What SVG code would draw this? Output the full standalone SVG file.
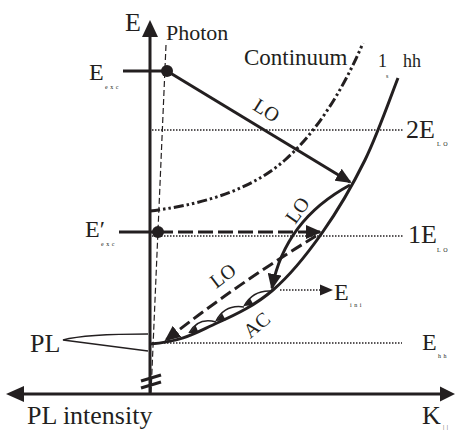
<svg xmlns="http://www.w3.org/2000/svg" width="455" height="430" viewBox="0 0 455 430">
<style>
.ln{stroke:#231f20;fill:none;stroke-width:3}
.thin{stroke:#231f20;fill:none;stroke-width:1.5}
.dot{stroke:#231f20;fill:none;stroke-width:1.5;stroke-dasharray:1.5 1.5}
.t{fill:#231f20}
.sub{fill:#231f20;font-size:6px;letter-spacing:2.5px}
.fill{fill:#231f20}
</style>
<defs>
<marker id="ah" viewBox="0 0 16 14" refX="14" refY="7" markerWidth="16" markerHeight="14" markerUnits="userSpaceOnUse" orient="auto"><path d="M0,0 L16,7 L0,14 z" fill="#231f20"/></marker>
</defs>
<g id="axes">
<line class="ln" x1="150" y1="395" x2="150" y2="34"/>
<polygon class="fill" points="150,20 158,37 142,37"/>
<line class="ln" x1="20" y1="394" x2="444" y2="394"/>
<polygon class="fill" points="6,394 24,386 24,402"/>
<polygon class="fill" points="455,394 440,386.5 440,401.5"/>
<line class="ln" x1="141" y1="381" x2="161" y2="375"/>
<line class="ln" x1="141" y1="388" x2="161" y2="382"/>
<line class="ln" x1="123" y1="71" x2="167" y2="71"/>
<line class="ln" x1="119" y1="232" x2="158" y2="232"/>
</g>
<g id="levels">
<line class="dot" x1="152" y1="130" x2="403" y2="130"/>
<line class="dot" x1="152" y1="236" x2="404" y2="236"/>
<line class="dot" x1="152" y1="343" x2="402" y2="343"/>
</g>
<g id="curves">
<line x1="166" y1="45" x2="151" y2="393" stroke="#231f20" stroke-width="1.2" stroke-dasharray="6 3" fill="none"/>
<path class="ln" d="M150,211 Q240,200 285,160 T363,43" stroke-dasharray="10 3 2.5 3 2.5 3"/>
<path class="ln" d="M150,344 C185,341 196.8,332 217,323 C237.2,314 255.5,305 273,290 C290.5,275 306.7,254.7 322,233 C337.3,211.3 352.3,185.8 365,160 C377.7,134.2 392.5,91.7 398,78"/>
<path class="thin" d="M148,334 Q85,334 63,340 L148,351"/>
</g>
<g id="dots">
<circle class="fill" cx="167" cy="71" r="6"/>
<circle class="fill" cx="158" cy="232" r="6"/>
</g>
<g id="connectors">
<line class="ln" x1="167" y1="71" x2="350" y2="182" marker-end="url(#ah)"/>
<line class="ln" x1="158" y1="232" x2="320" y2="232" stroke-dasharray="15 5" marker-end="url(#ah)"/>
<path class="ln" d="M350,185 Q285,220 272,288" marker-end="url(#ah)"/>
<path class="ln" d="M316,236 Q240,282 166,340" stroke-dasharray="12 5" marker-end="url(#ah)"/>
<path class="thin" d="M271,291 Q253,290 244,306"/>
<path class="thin" d="M244,307 Q225,304 216,321"/>
<path class="thin" d="M216,322 Q198,317 189,333"/>
<polygon class="fill" points="244,306 249.8,298 253.8,305"/>
<polygon class="fill" points="216,321 222,313.3 225.8,320.3"/>
<polygon class="fill" points="189,333 195.6,325.6 198.8,333"/>
<line class="dot" x1="280" y1="290" x2="322" y2="290"/>
<polygon class="fill" points="333,290 320,284.5 320,295.5"/>
</g>
<g id="labels" font-family="'Liberation Serif', 'Times New Roman', Tinos, 'DejaVu Serif', serif">
<text class="t" x="125" y="31" font-size="26">E</text>
<text class="t" x="166" y="40" font-size="22">Photon</text>
<text class="t" x="244" y="65" font-size="23">Continuum</text>
<text class="t" x="378" y="67" font-size="18">1</text>
<text class="sub" x="386" y="78">s</text>
<text class="t" x="403" y="67" font-size="18">hh</text>
<text class="t" x="89" y="80" font-size="24">E</text>
<text class="sub" x="105" y="89">exc</text>
<text class="t" x="85" y="237" font-size="24">E′</text>
<text class="sub" x="101" y="246">exc</text>
<text class="t" x="406" y="138" font-size="26">2E</text>
<text class="sub" x="437" y="146">LO</text>
<text class="t" x="408" y="243" font-size="26">1E</text>
<text class="sub" x="437" y="252">LO</text>
<text class="t" x="334" y="300" font-size="24">E</text>
<text class="sub" x="350" y="307">ini</text>
<text class="t" x="422" y="350" font-size="24">E</text>
<text class="sub" x="438" y="358">hh</text>
<text class="t" x="30" y="352" font-size="26">PL</text>
<text class="t" x="27" y="424" font-size="26">PL intensity</text>
<text class="t" x="422" y="424" font-size="26">K</text>
<text class="sub" x="443" y="429" font-size="5">||</text>
<text class="t" font-size="20" text-anchor="middle" transform="translate(263,116) rotate(32)">LO</text>
<text class="t" font-size="20" text-anchor="middle" transform="translate(303,214) rotate(-55)">LO</text>
<text class="t" font-size="20" text-anchor="middle" transform="translate(227,281) rotate(-37)">LO</text>
<text class="t" font-size="20" text-anchor="middle" transform="translate(261,330) rotate(-40)">AC</text>
</g>
</svg>
